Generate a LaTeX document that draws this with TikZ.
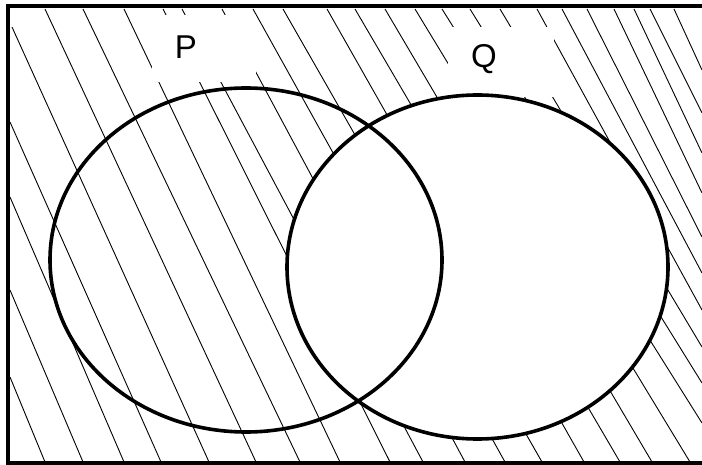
\documentclass[tikz,border=0pt]{standalone}
\usepackage{fontspec}
\setmainfont{Liberation Sans}
\begin{document}
\begin{tikzpicture}[x=1pt,y=-1pt,
  hatch/.style={line width=0.9pt,black},
  setline/.style={line width=3.6pt,black},
  frameline/.style={line width=3.8pt,black},
  labelbox/.style={fill=white,draw=none},
  setlabel/.style={font=\fontsize{33}{33}\selectfont,inner sep=0pt}]
\useasboundingbox (0,0) rectangle (702,465);
% hatching
\foreach \ax/\ay/\bx/\by in {
  10/377/45/462, 10/290/83/462, 10/197/124/462, 10/122/161/462, 12/27/209/462,
  45/9/256/462, 83/9/300/462, 124/9/340/462, 163/9/390/462, 182/9/423/462,
  222/9/465/462, 253/9/505/462, 283/9/542/462, 327/9/584/462, 355/9/620/462,
  385/9/652/462, 415/9/690/462, 442/9/702/423, 470/9/702/383, 500/9/702/347,
  537/9/702/310, 562/9/702/273, 587/9/702/237, 614/9/702/193, 634/9/702/153,
  650/9/702/113, 674/9/702/70}
  \draw[hatch] (\ax,\ay) -- (\bx,\by);
% white label areas
\fill[labelbox] (152,15) rectangle (256,82);
\fill[labelbox] (448,27) rectangle (554,97);
% Q region left unshaded
\fill[white] (477.5,267) ellipse [x radius=190.5, y radius=172];
% outlines
\draw[setline] (246,260) ellipse [x radius=196, y radius=172];
\draw[setline] (477.5,267) ellipse [x radius=190.5, y radius=172];
% labels
\node[setlabel] (P) at (186,47) {P};
\node[setlabel] (Q) at (484,59) {Q};
% frame
\draw[frameline] (704,6) -- (8,6) -- (8,463) -- (704,463);
\end{tikzpicture}
\end{document}
